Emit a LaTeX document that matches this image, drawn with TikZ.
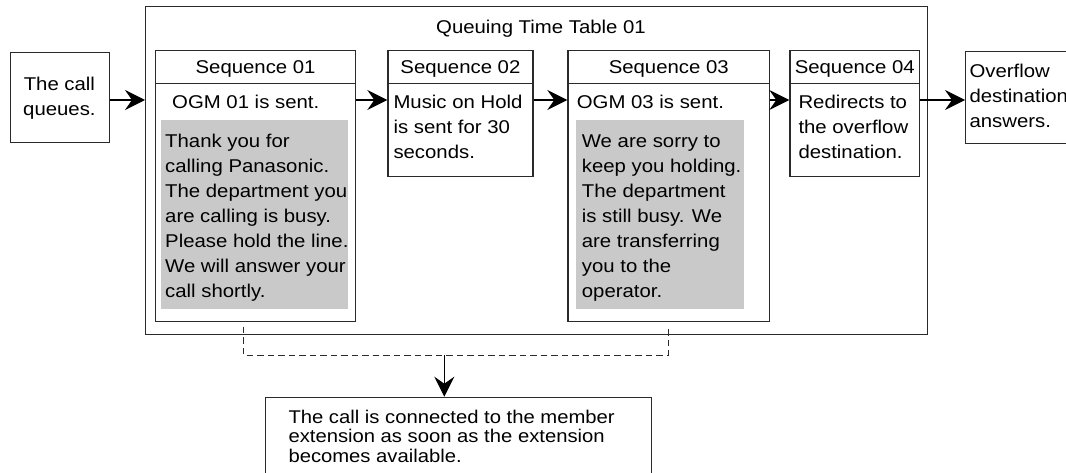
\documentclass[tikz,border=0pt]{standalone}
\usepackage{fontspec}
\setmainfont[FakeStretch=1.1]{Liberation Sans}
\usetikzlibrary{arrows.meta}
\definecolor{boxline}{HTML}{2A2A2A}
\definecolor{msgfill}{HTML}{C9C9C9}
\newcommand{\fr}{\rule{0pt}{16pt}}
\begin{document}
\begin{tikzpicture}[x=1pt,y=-1pt,
  box/.style={draw=boxline, line width=1.2pt, rectangle, inner sep=0pt, anchor=north west},
  msg/.style={fill=msgfill, rectangle, inner sep=0pt, anchor=north west},
  txt/.style={inner sep=0pt, anchor=north west, align=left, font=\fontsize{18.5}{25}\selectfont},
  txtc/.style={inner sep=0pt, anchor=north, align=center, font=\fontsize{18.5}{25}\selectfont},
  btxt/.style={inner sep=0pt, anchor=north west, align=left, font=\fontsize{18.4}{19.5}\selectfont},
  arr/.style={line width=1.2pt, draw=black, -{Stealth[length=20pt,width=20pt,inset=7pt]}},
  dsh/.style={line width=1pt, draw=boxline, dash pattern=on 6.5pt off 4pt}]
\useasboundingbox (0,0) rectangle (1066,473);
\clip (0,0) rectangle (1066,473);
\coordinate (ay) at (0,100);

% outer frame
\node[box, minimum width=782, minimum height=328] (frame) at (145,6) {};
\node[txtc] (title) at (541,17.3) {\fr Queuing Time Table 01};

% call queues
\node[box, minimum width=98.7, minimum height=89.7] (q) at (10,52) {};
\node[txtc] (qt) at (59.4,74) {\fr The call\\queues.};

% sequence 01
\node[box, minimum width=200, minimum height=32.7] (h1) at (155,50) {};
\node[box, minimum width=200, minimum height=238.3] (s1) at (155,82.7) {};
\node[txtc] (h1t) at (h1.center |- 0,57) {\fr Sequence 01};
\node[txt] (o1) at (172,92.5) {\fr OGM 01 is sent.};
\node[msg, minimum width=186.7, minimum height=189] (g1) at (161,120) {};
\node[txt] (g1t) at (165,131.3) {\fr Thank you for\\calling Panasonic.\\The department you\\are calling is busy.\\Please hold the line.\\We will answer your\\call shortly.};

% sequence 02
\node[box, minimum width=145, minimum height=32.7] (h2) at (387.3,50) {};
\node[box, minimum width=145, minimum height=93.3] (s2) at (387.3,82.7) {};
\node[txtc] (h2t) at (h2.center |- 0,57) {\fr Sequence 02};
\node[txt] (s2t) at (393.3,92) {\fr Music on Hold\\is sent for 30\\seconds.};

% sequence 03
\node[box, minimum width=201.7, minimum height=32.7] (h3) at (567.3,50) {};
\node[box, minimum width=201.7, minimum height=238.3] (s3) at (567.3,82.7) {};
\node[txtc] (h3t) at (h3.center |- 0,57) {\fr Sequence 03};
\node[txt] (o3) at (576.7,92.5) {\fr OGM 03 is sent.};
\node[msg, minimum width=168, minimum height=189] (g3) at (576,120) {};
\node[txt] (g3t) at (581.7,131) {\fr We are sorry to\\keep you holding.\\The department\\is still busy. We\\are transferring\\you to the\\operator.};

% sequence 04
\node[box, minimum width=129.7, minimum height=32.7] (h4) at (789.3,50) {};
\node[box, minimum width=129.7, minimum height=93.3] (s4) at (789.3,82.7) {};
\node[txtc] (h4t) at (h4.center |- 0,57) {\fr Sequence 04};
\node[txt] (s4t) at (798.3,92) {\fr Redirects to\\the overflow\\destination.};

% overflow
\node[box, minimum width=130, minimum height=92.3] (ov) at (965,51) {};
\node[txt] (ovt) at (969.3,61) {\fr Overflow\\destination\\answers.};

% bottom
\node[box, minimum width=385.7, minimum height=110] (bot) at (265,396.7) {};
\node[btxt] (bt) at (288.3,407) {\fr The call is connected to the member\\extension as soon as the extension\\becomes available.};

% arrows
\draw[arr] (q.east |- ay) -- (frame.west |- ay);
\draw[arr] (s1.east |- ay) -- (s2.west |- ay);
\draw[arr] (s2.east |- ay) -- (s3.west |- ay);
\draw[arr] (s3.east |- ay) -- (s4.west |- ay);
\draw[arr] (s4.east |- ay) -- (ov.west |- ay);

% dashed collection line
\coordinate (d1) at (243.3,326.7);
\coordinate (d2) at (243.3,355);
\coordinate (d3) at (668.3,355);
\coordinate (d4) at (668.3,326.7);
\coordinate (dm) at (444.3,355);
\draw[dsh] (d1) -- (d2) -- (d3) -- (d4);
\draw[arr] (dm) -- (dm |- bot.north);
\end{tikzpicture}
\end{document}
